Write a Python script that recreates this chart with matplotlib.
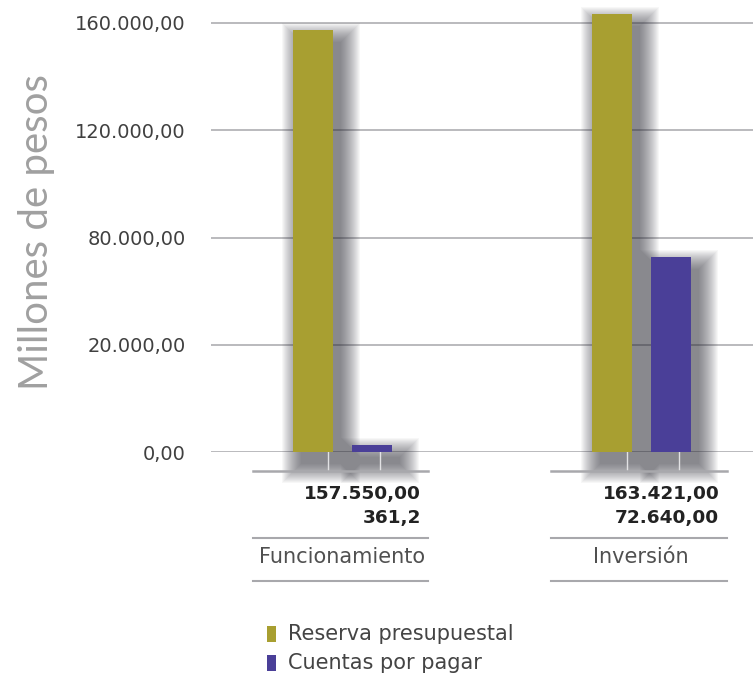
import matplotlib.pyplot as plt
from matplotlib.patches import Rectangle
from matplotlib.lines import Line2D

# data
categories = ['Funcionamiento', 'Inversión']
reserva = [157550.0, 163421.0]
cuentas = [361.2, 72640.0]
reserva_txt = ['157.550,00', '163.421,00']
cuentas_txt = ['361,2', '72.640,00']
series_names = ['Reserva presupuestal', 'Cuentas por pagar']
y_ticks = [0, 40000, 80000, 120000, 160000]
y_tick_labels = ['0,00', '20.000,00', '80.000,00', '120.000,00', '160.000,00']

col_res = '#a89f31'
col_cxp = '#4a3f98'
grid_col = '#b4b4b8'

W, H = 753, 674
plt.rcParams['font.family'] = ['DejaVu Sans']
fig = plt.figure(figsize=(W / 100, H / 100), dpi=100)

# axes box in pixels: left 211, right 753, baseline 452, top 10
ax = fig.add_axes([211 / W, (H - 452) / H, (W - 211) / W, 442 / H])
ymax = 160000 * (452 - 10) / (452 - 23)
ax.set_ylim(0, ymax)
ax.set_xlim(-0.4405, 1.375)

px_x = 1 / 298.5            # data units per pixel on x
px_y = ymax / 442           # data units per pixel on y
bw = 40 * px_x
off = 29.5 * px_x
min_h = 7 * px_y            # smallest drawn bar height


def shadow(x0, h):
    # soft blurred shadow, offset right and down from the bar
    n = 20
    for i in range(n):
        s = i * 1.0
        r = Rectangle((x0 + (8 - s) * px_x, -(12 + s) * px_y),
                      bw + 2 * s * px_x, h + (2 * s) * px_y,
                      facecolor='#34333e', edgecolor='none', alpha=0.038,
                      zorder=1, clip_on=False)
        ax.add_patch(r)


for i in range(len(categories)):
    for xc, val, col in [(i - off, reserva[i], col_res), (i + off, cuentas[i], col_cxp)]:
        h = max(val, min_h)
        shadow(xc - bw / 2, h)
        ax.bar(xc, h, width=bw, color=col, zorder=3)

ax.set_yticks(y_ticks)
ax.set_yticklabels(y_tick_labels, fontsize=14, color='#404040')
ax.tick_params(axis='y', length=0, pad=18)
ax.set_xticks([])
ax.grid(axis='y', color=grid_col, linewidth=1.3, zorder=0)
ax.set_axisbelow(True)
for sp in ax.spines.values():
    sp.set_visible(False)

# little table under each group
tr = ax.get_xaxis_transform()
for i in range(len(categories)):
    x1, x2 = i - 0.30, i + 0.287
    for yy, lw in [(-0.043, 1.8), (-0.195, 1.5), (-0.292, 1.5)]:
        ax.add_line(Line2D([x1, x2], [yy, yy], color='#a8a8ac', linewidth=lw,
                           transform=tr, clip_on=False, zorder=4))
    for xv in [i - 0.048, i + 0.126]:
        ax.add_line(Line2D([xv, xv], [0, -0.043], color='#e2e2e4', linewidth=1,
                           transform=tr, clip_on=False, zorder=2))
    ax.text(i + 0.262, -0.095, reserva_txt[i], transform=tr, ha='right', va='center',
            fontsize=13.3, fontweight='bold', color='#222222')
    ax.text(i + 0.262, -0.149, cuentas_txt[i], transform=tr, ha='right', va='center',
            fontsize=13.3, fontweight='bold', color='#222222')
    ax.text(i, -0.2375, categories[i], transform=tr, ha='center', va='center',
            fontsize=15, color='#505050')

fig.text(37 / W, 1 - 232 / H, 'Millones de pesos', rotation=90, ha='center',
         va='center', fontsize=29, color='#a0a0a0', fontweight='normal',
         family=['Lato', 'DejaVu Sans'])

# legend
for k, (name, col) in enumerate(zip(series_names, [col_res, col_cxp])):
    yc = 634 + k * 29
    fig.patches.append(Rectangle((267 / W, 1 - (yc + 8) / H), 9 / W, 16 / H,
                                 facecolor=col, edgecolor='none',
                                 transform=fig.transFigure))
    fig.text(288 / W, 1 - yc / H, name, ha='left', va='center',
             fontsize=15, color='#444444')

fig.savefig('out.png', dpi=100)
